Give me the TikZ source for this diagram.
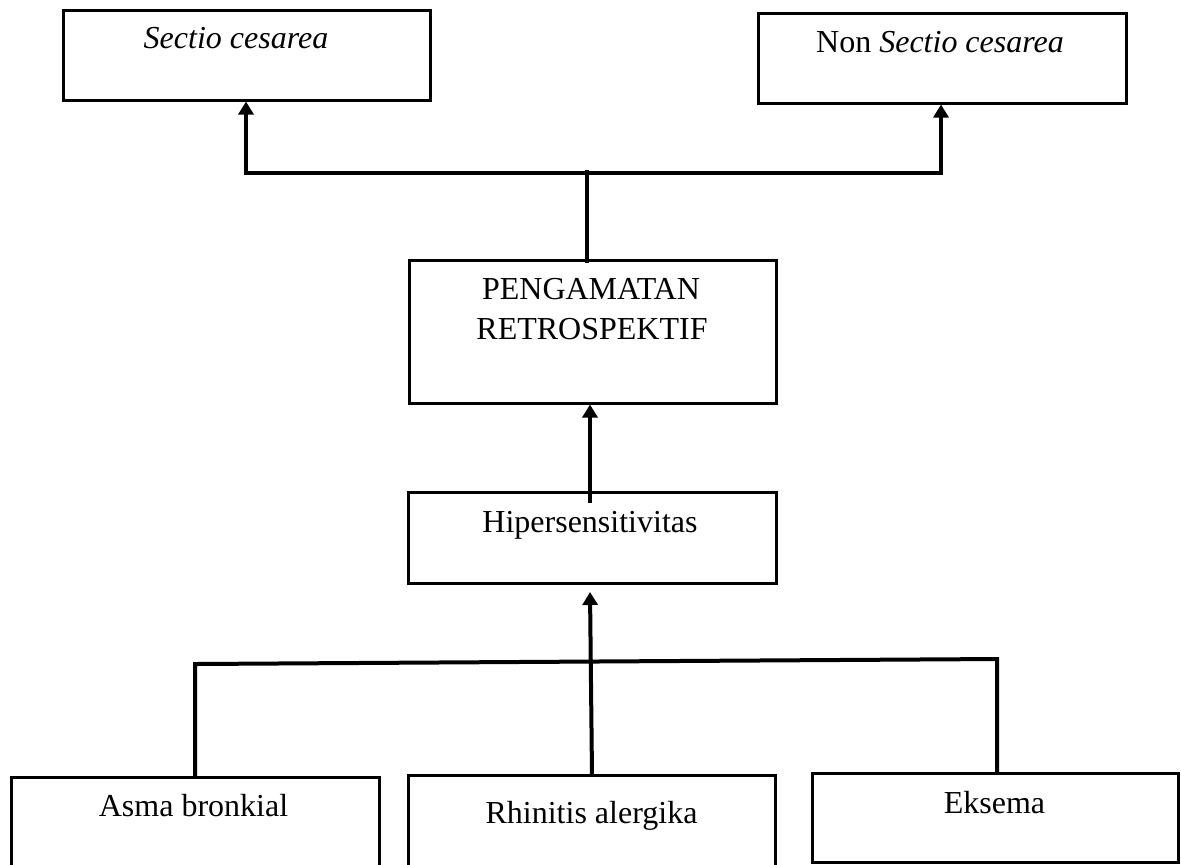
\documentclass[tikz,border=0pt]{standalone}
\usepackage{fontspec}
\setmainfont{Liberation Serif}
\usetikzlibrary{arrows.meta,calc}
\begin{document}
\begin{tikzpicture}[x=0.5pt,y=-0.5pt,
  box/.style={draw, line width=1.25pt, inner sep=0pt, anchor=north west},
  lbl/.style={anchor=base, inner sep=0pt, font=\fontsize{16pt}{19pt}\selectfont},
  conn/.style={line width=2pt},
  tip/.tip={Triangle[width=7.5pt,length=6.5pt]},
  arr/.style={conn, -tip},
]
\useasboundingbox (0,0) rectangle (1181,864);
\clip (0,0) rectangle (1181,864);
% boxes
\node[box, minimum width=183.5pt, minimum height=45pt] (A) at (62,9) {};
\node[box, minimum width=184pt, minimum height=45pt] (B) at (757,12) {};
\node[box, minimum width=183.5pt, minimum height=71.5pt] (C) at (408,259) {};
\node[box, minimum width=184pt, minimum height=45.5pt] (D) at (407,491) {};
\node[box, minimum width=184pt, minimum height=62pt] (E) at (10,776) {};
\node[box, minimum width=183.5pt, minimum height=62pt] (F) at (407,774) {};
\node[box, minimum width=183pt, minimum height=44.5pt] (G) at (811,772) {};
% texts
\node[lbl] (tA) at (236,48) {\itshape Sectio cesarea};
\node[lbl] (tB) at (940,52) {Non \textit{Sectio cesarea}};
\node[lbl] (tC1) at (591,299) {PENGAMATAN};
\node[lbl] (tC2) at (592,339) {RETROSPEKTIF};
\node[lbl] (tD) at (590,532) {Hipersensitivitas};
\node[lbl] (tE) at (193.5,816) {Asma bronkial};
\node[lbl] (tF) at (591.5,823) {Rhinitis alergika};
\node[lbl] (tG) at (994.5,813) {Eksema};
% connectors
\coordinate (jl) at (246,173);
\coordinate (jr) at (941,173);
\coordinate (jc) at (587,170);
\coordinate (cs) at (587,263);
\draw[conn, tip-tip] (A.south -| jl) -- (jl) -- (jr) -- (B.south -| jr);
\draw[conn] (cs) -- (jc);
\coordinate (dc) at (590,503);
\draw[arr] (dc) -- (C.south -| dc);
\coordinate (fb) at (592,775);
\coordinate (dt) at (590,592);
\draw[arr] (fb) -- (dt);
\coordinate (bl) at (195,664);
\coordinate (br) at (997,659);
\draw[conn] (E.north -| bl) -- (bl) -- (br) -- (G.north -| br);
\end{tikzpicture}
\end{document}
